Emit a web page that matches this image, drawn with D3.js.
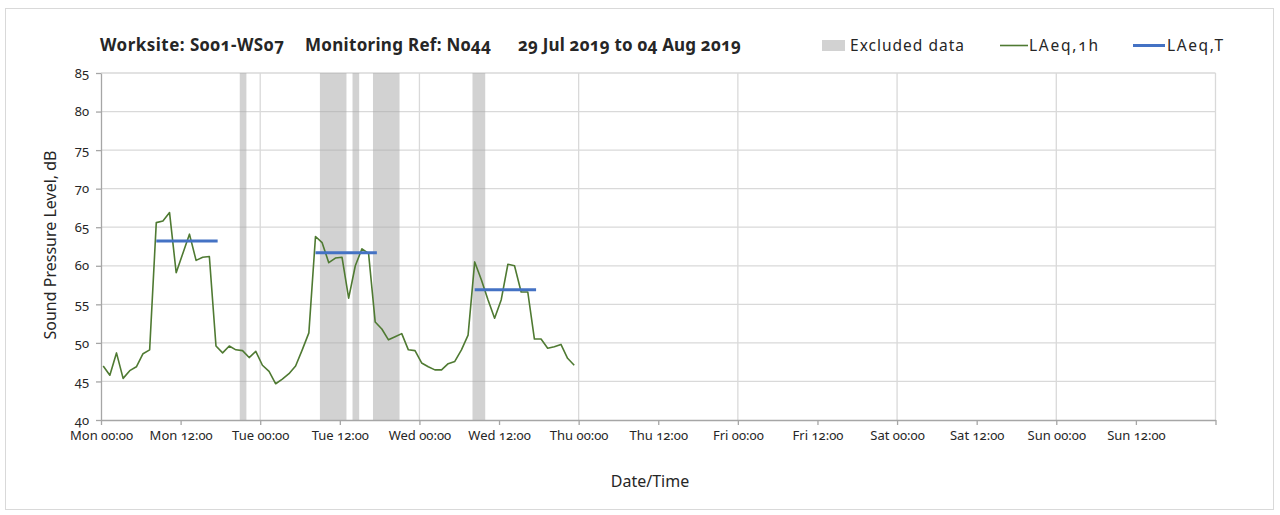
<!DOCTYPE html>
<html>
<head>
<meta charset="utf-8">
<script src="https://cdn.jsdelivr.net/npm/d3@7"></script>
<style>
  html, body { margin: 0; padding: 0; background: #fff; }
  svg text { font-family: "Noto Sans", "Open Sans", sans-serif; font-feature-settings: "onum" 1; font-variant-numeric: oldstyle-nums; fill: #262626; }
</style>
</head>
<body>
<svg id="chart" width="1280" height="515"></svg>
<script>
// ---------------- data ----------------
const titleParts = ["Worksite: S001-WS07", "Monitoring Ref: N044", "29 Jul 2019 to 04 Aug 2019"];
const seriesNames = ["Excluded data", "LAeq,1h", "LAeq,T"];
const yTicks = [40, 45, 50, 55, 60, 65, 70, 75, 80, 85];
const xDomain = ["2019-07-29 00:00", "2019-08-05 00:00"];
const firstReading = "2019-07-29 00:20";   // hourly readings from here
const laeq1h = [
  47.0, 45.8, 48.7, 45.4, 46.4, 46.9, 48.6, 49.1, 65.6, 65.8, 66.9, 59.1,
  61.6, 64.1, 60.7, 61.1, 61.2, 49.6, 48.7, 49.6, 49.1, 49.0, 48.1, 48.9,
  47.1, 46.3, 44.7, 45.3, 46.0, 47.0, 49.1, 51.3, 63.8, 63.0, 60.4, 61.0,
  61.1, 55.8, 60.0, 62.2, 61.6, 52.7, 51.8, 50.4, 50.8, 51.2, 49.1, 49.0,
  47.4, 46.9, 46.5, 46.5, 47.3, 47.6, 49.1, 51.0, 60.5, 58.2, 55.6, 53.2,
  55.6, 60.2, 60.0, 56.6, 56.6, 50.5, 50.5, 49.3, 49.5, 49.8, 48.0, 47.1
];
const periodStart = ["2019-07-29 08:20", "2019-07-30 08:20", "2019-07-31 08:20"];
const periodEnd   = ["2019-07-29 17:35", "2019-07-30 17:35", "2019-07-31 17:35"];
const laeqT       = [63.2, 61.7, 56.9];
const excludedStart = ["2019-07-29 20:55", "2019-07-30 09:00", "2019-07-30 13:55", "2019-07-30 17:00", "2019-07-31 08:00"];
const excludedEnd   = ["2019-07-29 21:55", "2019-07-30 13:00", "2019-07-30 14:55", "2019-07-30 21:00", "2019-07-31 09:55"];

// ---------------- setup ----------------
const parse = d3.timeParse("%Y-%m-%d %H:%M");
const svg = d3.select("#chart");
const M = { left: 101, right: 1215.5, top: 73, bottom: 420 };

const x = d3.scaleTime().domain(xDomain.map(parse)).range([M.left, M.right]);
const y = d3.scaleLinear().domain([40, 85]).range([M.bottom, M.top]);

const t0 = parse(firstReading);
const lineData = laeq1h.map((v, i) => ({ t: d3.timeHour.offset(t0, i), v }));

// chart border
svg.append("rect").attr("x", 5.5).attr("y", 8.5).attr("width", 1268).attr("height", 501)
  .attr("fill", "none").attr("stroke", "#D9D9D9").attr("stroke-width", 1);

// horizontal gridlines
svg.append("g").selectAll("line").data(yTicks.filter(d => d > 40)).join("line")
  .attr("x1", M.left).attr("x2", M.right)
  .attr("y1", d => y(d)).attr("y2", d => y(d))
  .attr("stroke", "#D9D9D9").attr("stroke-width", 1.3);

// vertical gridlines every 24h
const dayTicks = d3.timeDay.range(d3.timeDay.offset(x.domain()[0], 1), d3.timeHour.offset(x.domain()[1], 1));
svg.append("g").selectAll("line").data(dayTicks).join("line")
  .attr("x1", d => x(d)).attr("x2", d => x(d))
  .attr("y1", M.top).attr("y2", M.bottom)
  .attr("stroke", "#D9D9D9").attr("stroke-width", 1.3);

// excluded data bands
svg.append("g").selectAll("rect").data(excludedStart.map((s, i) => [parse(s), parse(excludedEnd[i])])).join("rect")
  .attr("x", d => x(d[0])).attr("width", d => x(d[1]) - x(d[0]))
  .attr("y", M.top).attr("height", M.bottom - M.top)
  .attr("fill", "#A6A6A6").attr("fill-opacity", 0.5);

// axes
const xTicks = d3.timeHour.every(12).range(x.domain()[0], d3.timeHour.offset(x.domain()[1], 1));
const xAxis = d3.axisBottom(x).tickValues(xTicks).tickSize(5).tickSizeOuter(0).tickPadding(6)
  .tickFormat(d => x.domain()[1] - d === 0 ? "" : d3.timeFormat("%a %H:%M")(d));
const gx = svg.append("g").attr("transform", `translate(0,${M.bottom})`).call(xAxis);
gx.select(".domain").attr("stroke", "#A6A6A6").attr("stroke-width", 1.3);
gx.selectAll(".tick line").attr("stroke", "#A6A6A6").attr("stroke-width", 1.3);
gx.selectAll(".tick text").attr("font-size", 13).attr("fill", "#262626");

const yAxis = d3.axisLeft(y).tickValues(yTicks).tickSize(5).tickSizeOuter(0).tickPadding(7);
const gy = svg.append("g").attr("transform", `translate(${M.left},0)`).call(yAxis);
gy.select(".domain").attr("stroke", "#A6A6A6").attr("stroke-width", 1.3);
gy.selectAll(".tick line").attr("stroke", "#A6A6A6").attr("stroke-width", 1.3);
gy.selectAll(".tick text").attr("font-size", 13).attr("fill", "#262626");
svg.selectAll(".tick text").style("font-family", '"Noto Sans", sans-serif');

// LAeq,1h line
svg.append("path").datum(lineData)
  .attr("fill", "none").attr("stroke", "#4F7A32").attr("stroke-width", 1.6)
  .attr("stroke-linejoin", "round")
  .attr("d", d3.line().x(d => x(d.t)).y(d => y(d.v)));

// LAeq,T segments
svg.append("g").selectAll("line").data(laeqT.map((v, i) => ({ s: parse(periodStart[i]), e: parse(periodEnd[i]), v }))).join("line")
  .attr("x1", d => x(d.s)).attr("x2", d => x(d.e))
  .attr("y1", d => y(d.v)).attr("y2", d => y(d.v))
  .attr("stroke", "#4472C4").attr("stroke-width", 3);

// title
const titleX = [100, 305, 518];
const titleW = [184, 186, 223];
svg.append("g").selectAll("text").data(titleParts).join("text")
  .attr("x", (d, i) => titleX[i]).attr("y", 51)
  .attr("font-size", 17).attr("font-weight", "bold").attr("fill", "#000")
  .attr("textLength", (d, i) => titleW[i]).attr("lengthAdjust", "spacing")
  .text(d => d);

// legend
const lg = svg.append("g");
lg.append("rect").attr("x", 822).attr("y", 40).attr("width", 23).attr("height", 11)
  .attr("fill", "#A6A6A6").attr("fill-opacity", 0.5);
lg.append("line").attr("x1", 1000).attr("x2", 1028).attr("y1", 45.5).attr("y2", 45.5)
  .attr("stroke", "#4F7A32").attr("stroke-width", 1.6);
lg.append("line").attr("x1", 1133).attr("x2", 1165).attr("y1", 45.5).attr("y2", 45.5)
  .attr("stroke", "#4472C4").attr("stroke-width", 3);
const legX = [850, 1029, 1167];
const legW = [114, 69, 56];
lg.selectAll("text").data(seriesNames).join("text")
  .attr("x", (d, i) => legX[i]).attr("y", 51)
  .attr("font-size", 15.5).attr("fill", "#262626")
  .attr("textLength", (d, i) => legW[i]).attr("lengthAdjust", "spacing")
  .text(d => d);

// axis titles
svg.append("text").attr("transform", "translate(56,245) rotate(-90)")
  .attr("text-anchor", "middle").attr("font-size", 16).attr("fill", "#262626")
  .text("Sound Pressure Level, dB");
svg.append("text").attr("x", 650).attr("y", 487)
  .attr("text-anchor", "middle").attr("font-size", 16).attr("fill", "#262626")
  .text("Date/Time");
</script>
</body>
</html>
